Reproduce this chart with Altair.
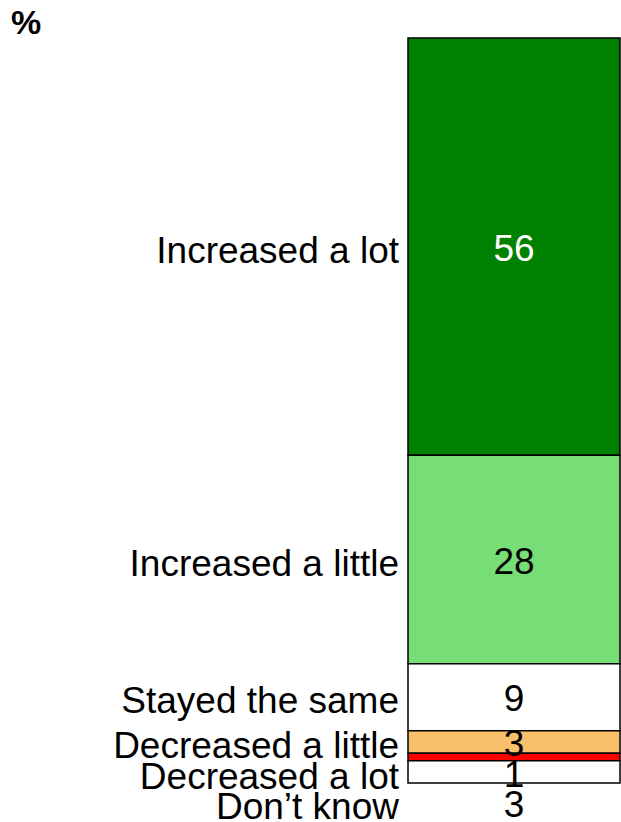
import altair as alt
import pandas as pd

categories = ["Increased a lot", "Increased a little", "Stayed the same",
              "Decreased a little", "Decreased a lot", "Don\u2019t know"]
values = [56, 28, 9, 3, 1, 3]
fill_colors = ["#008000", "#77DD77", "#FFFFFF", "#F8C06A", "#FF0000", "#FFFFFF"]
value_colors = ["#FFFFFF", "#000000", "#000000", "#000000", "#000000", "#000000"]

# build table: cumulative stack from top
starts, ends, centers = [], [], []
acc = 0
for v in values:
    starts.append(acc)
    ends.append(acc + v)
    centers.append(acc + v / 2)
    acc += v

# simple label repel: keep labels at least `gap` units apart
gap = 4.1
label_pos = []
prev = None
for c in centers:
    p = c if prev is None else max(c, prev + gap)
    label_pos.append(p)
    prev = p

df = pd.DataFrame({
    "category": categories,
    "value": values,
    "start": starts,
    "end": ends,
    "label_y": label_pos,
    "fill": fill_colors,
    "tcolor": value_colors,
})

yscale = alt.Scale(domain=[0, 100], range=[38, 783])
FONT = "Liberation Sans"

base = alt.Chart(df)

bars = base.mark_rect(stroke="black", strokeWidth=1.5).encode(
    x=alt.value(408), x2=alt.value(620),
    y=alt.Y("start:Q", scale=yscale, axis=None),
    y2="end:Q",
    fill=alt.Fill("fill:N", scale=None),
)

labels = base.mark_text(align="right", baseline="middle", font=FONT,
                        fontSize=37, color="black", dy=5).encode(
    x=alt.value(399),
    y=alt.Y("label_y:Q", scale=yscale, axis=None),
    text="category:N",
)

nums = base.mark_text(align="center", baseline="middle", font=FONT,
                      fontSize=37, dy=3).encode(
    x=alt.value(514),
    y=alt.Y("label_y:Q", scale=yscale, axis=None),
    text="value:Q",
    color=alt.Color("tcolor:N", scale=None),
)

pct = alt.Chart(pd.DataFrame({"t": ["%"]})).mark_text(
    align="left", baseline="middle", font=FONT, fontSize=34, fontWeight="bold"
).encode(x=alt.value(11), y=alt.value(24), text="t:N")

chart = alt.layer(bars, labels, nums, pct).properties(
    width=621, height=822, autosize=alt.AutoSizeParams(type="none"), padding=0
).configure_view(stroke=None)

chart.save("out.html", embed_options={"renderer": "svg", "actions": False})
